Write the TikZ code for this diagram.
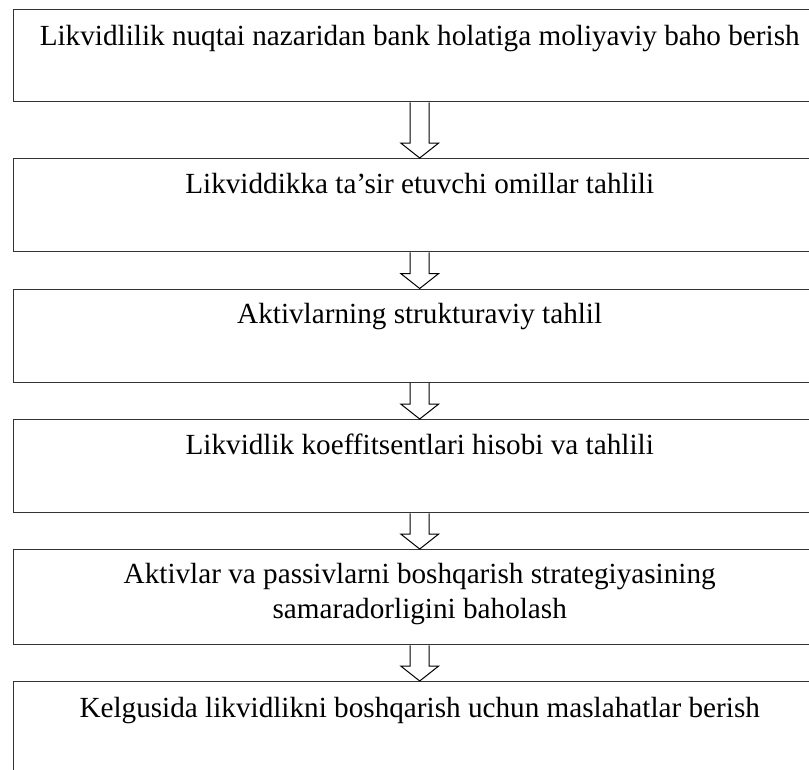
\documentclass[tikz,border=0pt]{standalone}
\usepackage{fontspec}
\setmainfont{Liberation Serif}
\usetikzlibrary{calc}
\begin{document}
\begin{tikzpicture}[x=1pt,y=-1pt,
  stepbox/.style={draw=black!80,line width=1.4pt,inner sep=0pt,anchor=north west,minimum width=813pt},
  steptext/.style={anchor=base,inner sep=0pt,align=center,font=\fontsize{29.2}{35}\selectfont},
  hollowarrow/.style={draw=black,line width=1pt,line join=miter}]
\useasboundingbox (0,0) rectangle (809,769);
\clip (0,0) rectangle (809,769);
\node[stepbox,minimum height=92pt] (b1) at (12.5,9) {};
\node[stepbox,minimum height=93pt] (b2) at (12.5,158) {};
\node[stepbox,minimum height=93pt] (b3) at (12.5,288.5) {};
\node[stepbox,minimum height=93pt] (b4) at (12.5,419) {};
\node[stepbox,minimum height=95pt] (b5) at (12.5,549) {};
\node[stepbox,minimum height=110pt] (b6) at (12.5,681) {};
\node[steptext] (t1) at ($(b1.north)+(0,36)$) {Likvidlilik nuqtai nazaridan bank holatiga moliyaviy baho berish};
\node[steptext] (t2) at ($(b2.north)+(0,35)$) {Likviddikka ta’sir etuvchi omillar tahlili};
\node[steptext] (t3) at ($(b3.north)+(0,35)$) {Aktivlarning strukturaviy tahlil};
\node[steptext] (t4) at ($(b4.north)+(0,35)$) {Likvidlik koeffitsentlari hisobi va tahlili};
\node[steptext] (t5a) at ($(b5.north)+(0,34)$) {Aktivlar va passivlarni boshqarish strategiyasining};
\node[steptext] (t5b) at ($(b5.north)+(0,69)$) {samaradorligini baholash};
\node[steptext] (t6) at ($(b6.north)+(0,36)$) {Kelgusida likvidlikni boshqarish uchun maslahatlar berish};
\foreach \a/\b in {b1/b2,b2/b3,b3/b4,b4/b5,b5/b6}{
  \draw[hollowarrow] ($(\a.south)+(-9.5,0)$) -- ($(\b.north)+(-9.5,-15)$) -- ($(\b.north)+(-19,-15)$) -- (\b.north) -- ($(\b.north)+(19,-15)$) -- ($(\b.north)+(9.5,-15)$) -- ($(\a.south)+(9.5,0)$);
}
\end{tikzpicture}
\end{document}
